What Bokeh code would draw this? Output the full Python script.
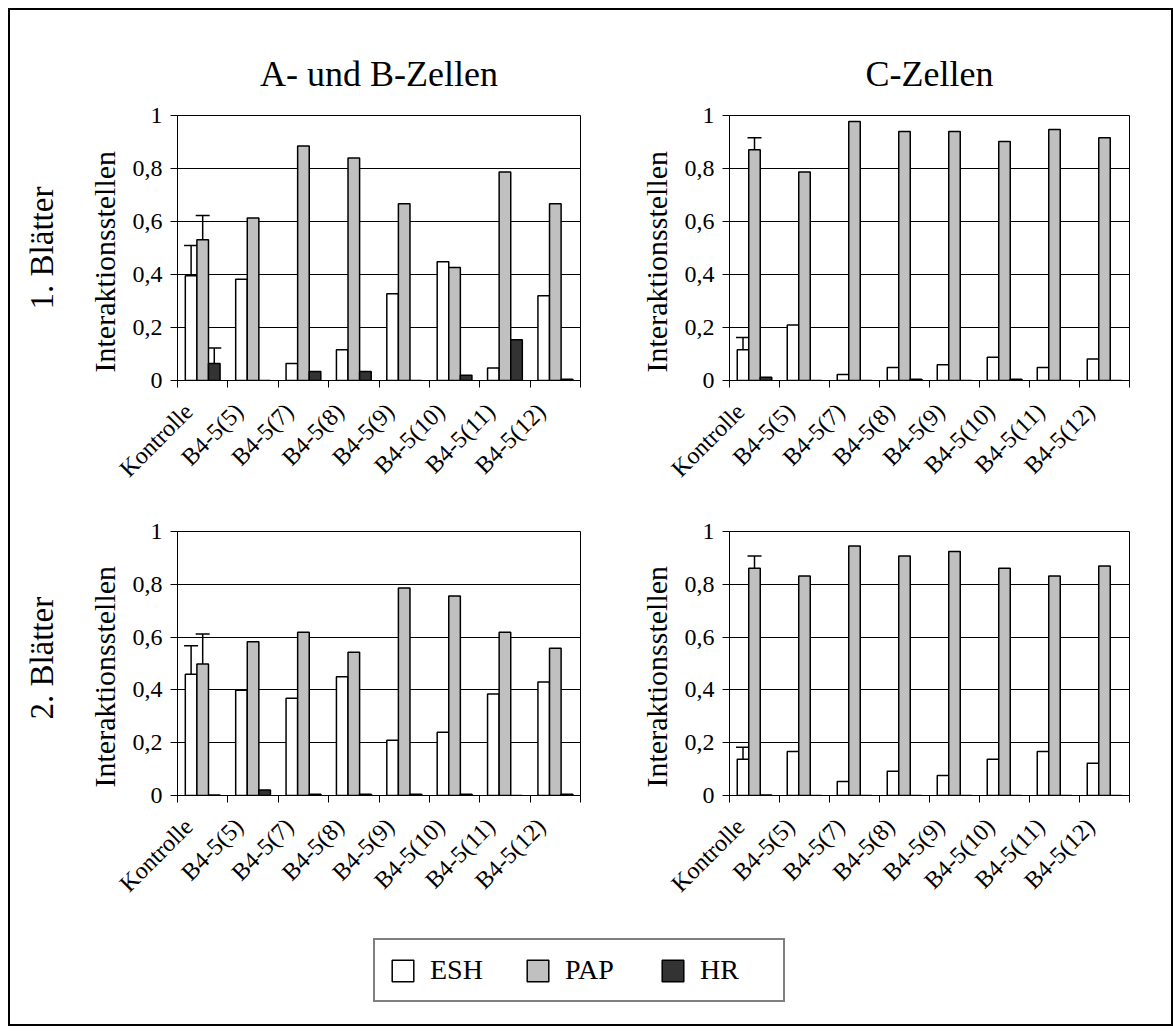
import math
from bokeh.plotting import figure
from bokeh.models import (Range1d, FixedTicker, ColumnDataSource, Whisker, TeeHead,
                          Legend, LegendItem, Title)
from bokeh.layouts import row, column
from bokeh.transform import dodge
from bokeh.core.properties import value
from bokeh.embed import file_html
from bokeh.resources import INLINE

# ---------------- data ----------------
categories = ["Kontrolle", "B4-5(5)", "B4-5(7)", "B4-5(8)", "B4-5(9)",
              "B4-5(10)", "B4-5(11)", "B4-5(12)"]
series = ["ESH", "PAP", "HR"]
y_ticks = [0, 0.2, 0.4, 0.6, 0.8, 1.0]
y_tick_labels = ["0", "0,2", "0,4", "0,6", "0,8", "1"]

col_titles = ["A- und B-Zellen", "C-Zellen"]
row_titles = ["1. Blätter", "2. Blätter"]
y_title = "Interaktionsstellen"

# 1. Blätter, A- und B-Zellen
ab1_esh = [0.395, 0.382, 0.064, 0.116, 0.327, 0.448, 0.047, 0.320]
ab1_pap = [0.531, 0.613, 0.885, 0.840, 0.667, 0.426, 0.787, 0.667]
ab1_hr = [0.064, 0.0, 0.034, 0.034, 0.0, 0.020, 0.154, 0.005]
ab1_err = [0.509, 0.623, 0.123]   # upper error limit for Kontrolle (ESH, PAP, HR)

# 1. Blätter, C-Zellen
c1_esh = [0.116, 0.209, 0.023, 0.049, 0.059, 0.088, 0.049, 0.081]
c1_pap = [0.871, 0.787, 0.977, 0.940, 0.940, 0.902, 0.947, 0.916]
c1_hr = [0.012, 0.0, 0.0, 0.005, 0.0, 0.005, 0.0, 0.0]
c1_err = [0.162, 0.916, None]

# 2. Blätter, A- und B-Zellen
ab2_esh = [0.459, 0.399, 0.368, 0.450, 0.209, 0.240, 0.384, 0.430]
ab2_pap = [0.498, 0.582, 0.618, 0.543, 0.786, 0.756, 0.618, 0.558]
ab2_hr = [0.002, 0.021, 0.005, 0.005, 0.005, 0.005, 0.0, 0.005]
ab2_err = [0.567, 0.612, None]

# 2. Blätter, C-Zellen
c2_esh = [0.137, 0.167, 0.053, 0.092, 0.076, 0.137, 0.167, 0.122]
c2_pap = [0.861, 0.831, 0.945, 0.907, 0.924, 0.861, 0.831, 0.869]
c2_hr = [0.002, 0.0, 0.0, 0.0, 0.0, 0.0, 0.0, 0.0]
c2_err = [0.183, 0.907, None]

# ---------------- style ----------------
FONT = "Liberation Serif"
COLORS = ["#ffffff", "#c0c0c0", "#333333"]
OFFSETS = [-0.23, 0.0, 0.23]
BAR_W = 0.23
LABEL_SHIFT = 0.28   # rotated labels end a little left of the slot centre

N = len(categories)
centers = [i + 0.5 for i in range(N)]          # category slots on the x scale
label_pos = [c - LABEL_SHIFT for c in centers]
boundaries = list(range(N + 1))


def make_panel(esh, pap, hr, err, title, width, height, mb_left, mb_right, mb_top, mb_bottom):
    p = figure(x_range=Range1d(0, N), y_range=Range1d(0, 1),
               width=width, height=height, title=title,
               toolbar_location=None, output_backend="svg",
               min_border_left=mb_left, min_border_right=mb_right,
               min_border_top=mb_top, min_border_bottom=mb_bottom)
    p.background_fill_color = "white"
    p.border_fill_color = "white"
    p.outline_line_color = "black"
    p.outline_line_width = 1

    if p.title is not None and title:
        p.title.text_font = FONT
        p.title.text_font_size = "36px"
        p.title.text_font_style = "normal"
        p.title.align = "center"
        p.title.text_color = "black"
        p.title.standoff = 43

    # y axis
    yax = p.yaxis[0]
    yax.ticker = FixedTicker(ticks=y_ticks)
    yax.major_label_overrides = {t: l for t, l in zip(y_ticks, y_tick_labels)}
    yax.major_label_text_font = FONT
    yax.major_label_text_font_size = "24px"
    yax.major_label_text_color = "black"
    yax.major_label_standoff = 8
    yax.major_tick_out = 7
    yax.major_tick_in = 0
    yax.minor_tick_out = 0
    yax.minor_tick_in = 0
    yax.axis_line_color = "black"
    yax.major_tick_line_color = "black"

    # y axis title (as a left title so it can start near the zero line)
    p.add_layout(Title(text=y_title, align="left", offset=8, standoff=18,
                       text_font=FONT, text_font_size="30px", text_font_style="normal",
                       text_color="black"), "left")

    p.ygrid.ticker = FixedTicker(ticks=y_ticks)
    p.ygrid.grid_line_color = "black"
    p.ygrid.grid_line_width = 1
    p.xgrid.visible = False

    # x axis: tick marks at category boundaries, labels next to the slot centres
    xax = p.xaxis[0]
    xax.ticker = FixedTicker(ticks=label_pos, minor_ticks=boundaries)
    xax.major_label_overrides = {c: name for c, name in zip(label_pos, categories)}
    xax.major_tick_out = 0
    xax.major_tick_in = 0
    xax.minor_tick_out = 7
    xax.minor_tick_in = 0
    xax.minor_tick_line_color = "black"
    xax.axis_line_color = "black"
    xax.major_label_orientation = math.pi / 4
    xax.major_label_text_font = FONT
    xax.major_label_text_font_size = "24px"
    xax.major_label_text_color = "black"
    xax.major_label_standoff = 20

    src = ColumnDataSource(dict(x=centers, ESH=esh, PAP=pap, HR=hr))
    for s, off, col in zip(series, OFFSETS, COLORS):
        p.vbar(x=dodge("x", off), top=s, width=BAR_W, source=src,
               fill_color=col, line_color="black", line_width=1.5)

    tops = [esh[0], pap[0], hr[0]]
    for off, e, t in zip(OFFSETS, err, tops):
        if e is None:
            continue
        wsrc = ColumnDataSource(dict(x=[centers[0]], lower=[t], upper=[e]))
        w = Whisker(source=wsrc, base=dodge("x", off),
                    lower="lower", upper="upper", dimension="height",
                    line_color="black", line_width=1.5,
                    upper_head=TeeHead(size=14, line_width=1.5, line_color="black"),
                    lower_head=None)
        p.add_layout(w)
    return p, src


def make_row_label(text, height, ypos):
    p = figure(width=60, height=height, x_range=Range1d(0, 1), y_range=Range1d(0, 1),
               title=None, x_axis_location=None, y_axis_location=None,
               toolbar_location=None, output_backend="svg", min_border=0,
               outline_line_color=None)
    p.xgrid.visible = False
    p.ygrid.visible = False
    p.text(x=[0.52], y=[ypos], text=[text], angle=math.pi / 2,
           text_align="center", text_baseline="middle",
           text_font=value(FONT), text_font_size="33px", text_color="black")
    return p


TOP_H, BOT_H = 490, 413
LEG_H = 1014 - TOP_H - BOT_H
LW, RW = 550, 551

tl, tl_src = make_panel(ab1_esh, ab1_pap, ab1_hr, ab1_err, col_titles[0], LW, TOP_H, 107, 40, 105, 120)
tr, _ = make_panel(c1_esh, c1_pap, c1_hr, c1_err, col_titles[1], RW, TOP_H, 109, 42, 105, 120)
bl, _ = make_panel(ab2_esh, ab2_pap, ab2_hr, ab2_err, None, LW, BOT_H, 107, 40, 31, 118)
br, _ = make_panel(c2_esh, c2_pap, c2_hr, c2_err, None, RW, BOT_H, 109, 42, 31, 118)

lab1 = make_row_label(row_titles[0], TOP_H, 0.50)
lab2 = make_row_label(row_titles[1], BOT_H, 0.52)

# legend (its proxy renderers share the panel data but are not drawn)
lf = figure(width=60 + LW + RW, height=LEG_H, x_range=Range1d(0, 1), y_range=Range1d(0, 1),
            title=None, x_axis_location=None, y_axis_location=None,
            toolbar_location=None, output_backend="svg", min_border=0,
            outline_line_color=None)
lf.xgrid.visible = False
lf.ygrid.visible = False
items = []
for s, col in zip(series, COLORS):
    r = lf.vbar(x="x", top=s, width=BAR_W, source=tl_src, fill_color=col,
                line_color="black", line_width=1.5, visible=False)
    items.append(LegendItem(label=s, renderers=[r]))
leg = Legend(items=items, orientation="horizontal", location=(363, 22),
             label_text_font=FONT, label_text_font_size="28px", label_text_color="black",
             glyph_width=27, glyph_height=27, label_standoff=14, label_width=69,
             label_height=27, spacing=25, padding=14, margin=0,
             border_line_color="black", border_line_width=2,
             background_fill_color="white", background_fill_alpha=1)
lf.add_layout(leg)

root = column(row(lab1, tl, tr), row(lab2, bl, br), lf,
              styles={"border": "2px solid black", "margin-left": "8px", "margin-top": "8px"})

open("out.html", "w").write(file_html(root, INLINE))
